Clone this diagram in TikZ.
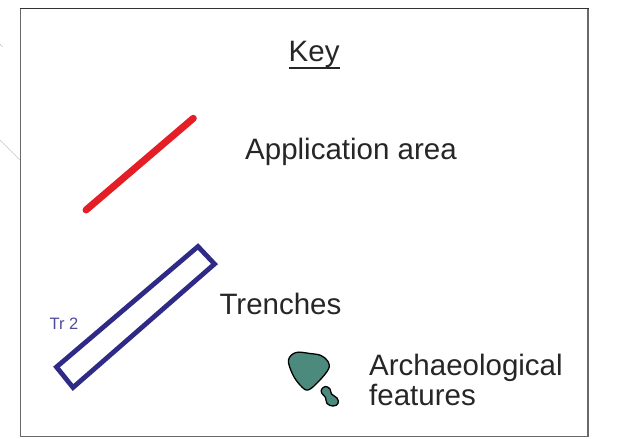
\documentclass[tikz,border=0pt]{standalone}
\usepackage{fontspec}
\setmainfont{Liberation Sans}
\definecolor{appred}{RGB}{227,30,36}
\definecolor{trenchblue}{RGB}{46,42,134}
\definecolor{featteal}{RGB}{75,138,124}
\definecolor{keytext}{RGB}{38,38,38}
\definecolor{frameedge}{RGB}{105,105,105}
\tikzset{
  keylabel/.style={inner sep=0pt, anchor=base west, text=keytext,
    font=\fontsize{29.5}{29.5}\selectfont},
  trenchlabel/.style={inner sep=0pt, anchor=base west, text=trenchblue!85!white,
    font=\fontsize{16.5}{16.5}\selectfont},
  feature/.style={fill=featteal, draw=black, line width=1.3pt, line join=round},
}
\begin{document}
\begin{tikzpicture}[x=1pt,y=-1pt]
  \useasboundingbox (0,0) rectangle (619,439);
  % faint guide lines outside the frame
  \draw[gray!45, line width=0.6pt] (0,140) -- (20,160);
  \draw[gray!45, line width=0.6pt] (0,44) -- (2.5,47);
  % frame of the key
  \draw[frameedge, line width=1.8pt] (20.5,8.5) rectangle (588,436.5);
  \draw[black!80, line width=1.8pt] (19.6,8.5) -- (588.9,8.5);

  % heading
  \node[keylabel] (key) at (288.5,61.7) {Key};
  \draw[keytext, line width=1.6pt] ([yshift=-6pt]key.base west) -- ([yshift=-6pt]key.base east);

  % application area symbol
  \coordinate (appA) at (86,210);
  \coordinate (appB) at (193.3,118.3);
  \draw[appred, line width=7pt, line cap=round] (appA) -- (appB);
  \node[keylabel] (applab) at (245,159) {Application area};

  % trench symbol
  \draw[trenchblue, line width=4.8pt, line join=miter]
    (56.5,367) -- (198,246.5) -- (214.5,264) -- (73,387.5) -- cycle;
  \node[trenchlabel] (tr) at (49.5,329.3) {Tr 2};
  \node[keylabel] (trenchlab) at (219.3,314) {Trenches};

  % archaeological feature symbol
  \draw[feature] plot[smooth cycle, tension=0.6] coordinates {
    (288.5,360) (296,352.5) (310,353.5) (321,355.5) (328,361.5) (328.5,369)
    (319,381) (308,390) (300,385) (292.5,374)};
  \draw[feature] plot[smooth cycle, tension=0.7] coordinates {
    (321.5,389.5) (325.5,386.5) (330,389) (331.5,394) (337,398) (338,403.5)
    (333,406) (327,403.5) (325.5,397.5) (322,393.5)};
  \node[keylabel] (archlab) at (369,375.7) {Archaeological};
  \node[keylabel] (featlab) at (369,405.2) {features};
\end{tikzpicture}
\end{document}
